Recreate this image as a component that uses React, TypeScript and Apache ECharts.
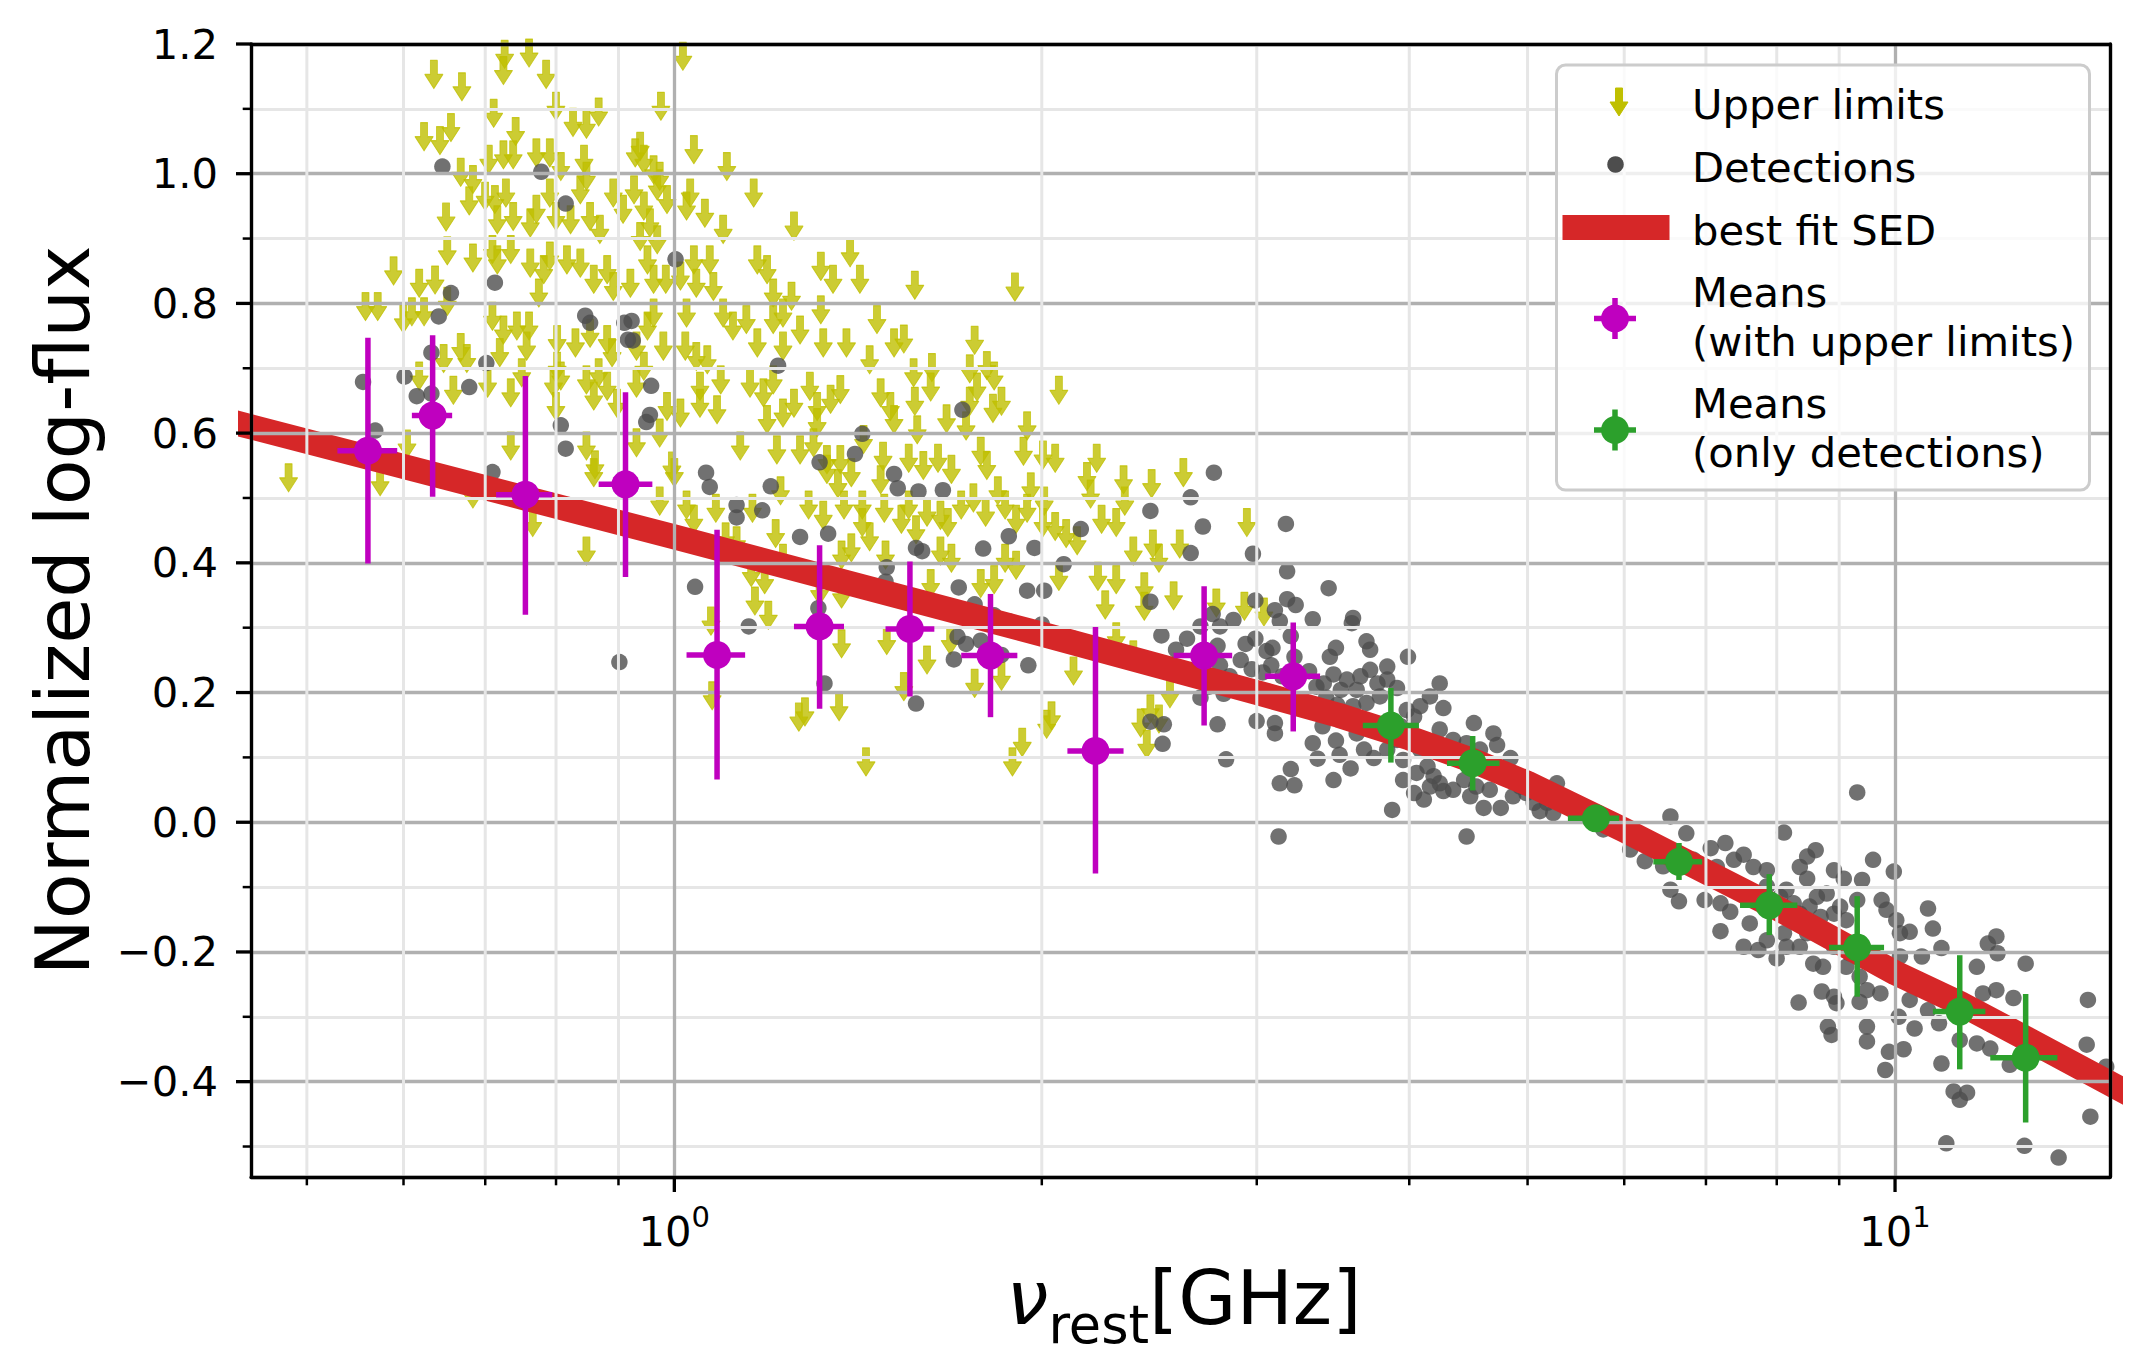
import React, { useEffect, useRef } from 'react';
import * as echarts from 'echarts';

// All x values are log10(nu_rest / GHz); y values are the normalized log-flux.
const upperLimits: [number, number][] = [
  [-0.139,1.184],[-0.119,1.186],[-0.140,1.159],[-0.197,1.153],[-0.174,1.134],[-0.105,1.153],[-0.148,1.093],[-0.097,1.104],[-0.083,1.079],[-0.072,1.076],[-0.062,1.095],[-0.011,1.104],[0.007,1.181],[-0.205,1.057],[-0.192,1.051],[-0.183,1.071],[-0.130,1.065],
  [-0.175,1.002],[-0.165,0.991],[-0.187,0.933],[-0.168,0.958],[-0.186,0.881],[-0.165,0.870],
  [-0.230,0.850],[-0.209,0.831],[-0.196,0.836],[-0.186,0.803],
  [-0.253,0.795],[-0.243,0.795],[-0.222,0.776],[-0.215,0.787],[-0.205,0.787],[-0.189,0.715],[-0.175,0.732],[-0.170,0.715],
  [-0.209,0.688],[-0.219,0.583],[-0.181,0.666],[-0.066,0.539],[0.000,0.539],[-0.316,0.531],[-0.241,0.525],[-0.165,0.506],[-0.116,0.462],[-0.072,0.418],[-0.012,0.495],[0.010,0.489],[0.016,0.467],[0.034,0.484],[0.042,0.440],[0.051,0.434],[0.064,0.484],[0.083,0.445],[0.063,0.385],[0.074,0.374],[0.089,0.407],
  [0.030,0.310],[0.031,0.195],[0.066,0.341],[0.077,0.319],[0.102,0.162],
  [-0.152,1.022],[-0.140,1.029],[-0.132,1.029],[-0.113,1.032],[-0.102,1.032],[-0.093,1.011],[-0.074,1.022],[-0.072,0.996],[-0.032,1.032],[-0.028,1.042],[-0.025,1.022],[-0.017,1.006],[-0.012,0.996],[0.016,1.037],[0.043,1.011],
  [-0.155,0.965],[-0.147,0.960],[-0.138,0.970],[-0.145,0.929],[-0.132,0.934],[-0.118,0.924],[-0.113,0.945],[-0.102,0.970],[-0.097,0.934],[-0.085,0.929],[-0.077,0.975],[-0.069,0.934],[-0.061,0.914],[-0.050,0.970],[-0.042,0.945],[-0.033,0.975],[-0.025,0.950],[-0.020,0.924],[-0.014,0.981],[-0.006,0.960],[0.010,0.950],[0.013,0.970],[0.025,0.939],[0.040,0.914],[0.065,0.970],[0.098,0.919],
  [-0.149,0.883],[-0.134,0.883],[-0.118,0.862],[-0.107,0.852],[-0.102,0.873],[-0.088,0.867],[-0.077,0.862],[-0.066,0.837],[-0.055,0.852],[-0.050,0.826],[-0.036,0.831],[-0.028,0.903],[-0.022,0.867],[-0.014,0.898],[-0.017,0.837],[-0.007,0.837],[0.005,0.842],[0.016,0.867],[0.018,0.831],[0.029,0.867],[0.032,0.826],[0.068,0.867],[0.076,0.852],[0.081,0.816],[0.096,0.811],[0.120,0.857],[0.130,0.837],[0.144,0.878],[0.152,0.837],[-0.111,0.816],[-0.145,0.867],
  [-0.149,0.780],[-0.140,0.759],[-0.129,0.765],[-0.119,0.765],[-0.143,0.724],[-0.121,0.734],[-0.096,0.744],[-0.081,0.739],[-0.069,0.754],[-0.055,0.744],[-0.051,0.724],[-0.031,0.734],[-0.022,0.765],[-0.017,0.785],[-0.009,0.734],[0.010,0.785],[0.009,0.734],[0.027,0.713],[0.040,0.785],[0.048,0.765],[0.059,0.775],[0.068,0.739],[0.081,0.775],[0.089,0.785],[0.103,0.759],[0.120,0.790],[0.122,0.739],[0.141,0.739],[0.166,0.775],[0.180,0.739],[0.018,0.718],[0.089,0.734],
  [-0.153,0.677],[-0.134,0.662],[-0.125,0.693],[-0.099,0.677],[-0.096,0.703],[-0.097,0.641],[-0.093,0.688],[-0.072,0.682],[-0.066,0.657],[-0.062,0.693],[-0.055,0.672],[-0.047,0.646],[-0.031,0.677],[-0.025,0.703],[-0.006,0.641],[0.005,0.631],[0.021,0.672],[0.021,0.646],[0.035,0.636],[0.038,0.682],[0.062,0.677],[0.073,0.662],[0.081,0.682],[0.089,0.631],[0.098,0.646],[0.111,0.672],[0.117,0.641],[0.128,0.652],[0.136,0.667],[0.160,0.713],[0.169,0.662],[0.177,0.641],[0.076,0.621],[0.117,0.616],
  [-0.134,0.580],[-0.072,0.580],[-0.065,0.551],[-0.031,0.585],[-0.012,0.600],[0.054,0.580],[0.084,0.574],[0.103,0.574],[0.114,0.585],[0.125,0.559],[0.136,0.559],[0.155,0.590],[0.171,0.564],[0.180,0.621],[-0.002,0.549],
  [0.197,0.828],[0.279,0.825],[0.188,0.745],[0.196,0.693],[0.211,0.701],[0.197,0.649],[0.210,0.671],[0.246,0.743],[0.242,0.699],[0.248,0.671],[0.256,0.704],[0.262,0.688],[0.268,0.649],[0.261,0.638],[0.315,0.666],[0.199,0.605],[0.223,0.622],[0.239,0.611],[0.242,0.649],
  [0.125,0.544],[0.134,0.522],[0.145,0.539],[0.169,0.528],[0.192,0.561],[0.204,0.550],[0.216,0.561],[0.227,0.544],[0.251,0.572],[0.256,0.550],[0.289,0.611],[0.286,0.572],[0.302,0.566],[0.312,0.561],[0.346,0.561],[0.338,0.533],[0.368,0.528],[0.391,0.522],[0.417,0.539],
  [0.087,0.511],[0.110,0.489],[0.122,0.473],[0.139,0.489],[0.154,0.489],[0.154,0.462],[0.160,0.440],[0.172,0.484],[0.186,0.467],[0.192,0.489],[0.198,0.451],[0.207,0.478],[0.218,0.473],[0.224,0.462],[0.235,0.489],[0.245,0.500],[0.255,0.478],[0.265,0.511],[0.271,0.489],[0.280,0.467],[0.289,0.484],[0.292,0.517],[0.303,0.495],[0.302,0.462],[0.312,0.456],[0.321,0.445],[0.330,0.434],[0.341,0.506],[0.350,0.467],[0.362,0.462],[0.369,0.495],[0.376,0.418],[0.392,0.429],[0.397,0.407],[0.414,0.429],[0.469,0.462],
  [0.173,0.412],[0.218,0.418],[0.227,0.407],[0.271,0.407],[0.280,0.396],[0.137,0.412],[0.145,0.423],[0.315,0.379],[0.347,0.379],[0.362,0.374],[0.385,0.363],[0.251,0.368],[0.262,0.374],[0.210,0.368],
  [0.137,0.275],[0.174,0.280],[0.207,0.250],[0.188,0.209],[0.246,0.214],[0.268,0.225],[0.157,0.093],[0.277,0.093],[0.285,0.123],[0.305,0.151],[0.309,0.164],[0.327,0.233],[0.362,0.286],[0.376,0.258],[0.385,0.333],[0.409,0.349],[0.390,0.175],[0.382,0.153],[0.387,0.120],[0.397,0.159],[0.406,0.198],[0.444,0.338],[0.467,0.333],[0.483,0.324],[0.107,0.170],[0.135,0.178],[0.353,0.335],[0.119,0.357],[0.137,0.352],[0.226,0.280],
];

const detections: [number, number][] = [
  [-0.190,1.011],[-0.109,1.003],[-0.089,0.954],[0.001,0.868],[-0.147,0.832],[-0.183,0.816],[-0.193,0.780],[-0.073,0.781],[-0.069,0.770],[-0.041,0.770],[-0.035,0.773],[-0.038,0.744],[-0.034,0.743],[-0.199,0.724],[-0.154,0.708],[0.085,0.704],[-0.255,0.679],[-0.221,0.687],[-0.211,0.657],[-0.199,0.661],[-0.168,0.671],[-0.019,0.673],[-0.020,0.628],[-0.023,0.617],[-0.093,0.612],[-0.245,0.604],[-0.089,0.576],[-0.149,0.540],[0.026,0.539],[0.029,0.517],[0.079,0.518],[0.051,0.489],[0.051,0.470],[0.072,0.481],[0.103,0.440],[0.017,0.363],
  [0.061,0.302],[-0.045,0.247],
  [0.236,0.636],[0.154,0.599],[0.148,0.568],[0.119,0.555],[0.180,0.537],[0.183,0.515],[0.200,0.510],[0.220,0.512],[0.126,0.445],[0.198,0.423],[0.203,0.418],[0.174,0.393],[0.173,0.371],[0.253,0.422],[0.274,0.441],[0.295,0.423],[0.319,0.398],[0.333,0.452],[0.390,0.480],[0.423,0.501],[0.433,0.456],[0.423,0.415],[0.442,0.539],[0.474,0.414],[0.501,0.460],[0.502,0.387],[0.536,0.361],[0.233,0.362],[0.289,0.357],[0.303,0.357],
  [0.118,0.330],[0.123,0.214],[0.198,0.183],[0.246,0.336],[0.232,0.286],[0.239,0.275],[0.229,0.251],[0.251,0.280],[0.262,0.319],[0.274,0.310],[0.268,0.258],[0.290,0.242],[0.301,0.305],[0.327,0.283],[0.390,0.340],[0.399,0.288],[0.411,0.266],[0.420,0.283],[0.431,0.302],[0.441,0.321],[0.447,0.302],[0.445,0.272],[0.447,0.242],[0.458,0.312],[0.476,0.342],[0.492,0.327],[0.502,0.344],[0.509,0.335],[0.523,0.313],[0.496,0.310],[0.505,0.287],[0.468,0.275],[0.476,0.283],[0.485,0.264],[0.490,0.269],[0.464,0.250],[0.473,0.236],[0.482,0.231],[0.489,0.242],[0.498,0.225],[0.508,0.255],[0.520,0.233],[0.537,0.255],[0.542,0.269],[0.540,0.228],[0.526,0.209],[0.534,0.192],[0.543,0.181],[0.431,0.192],[0.450,0.198],[0.445,0.151],[0.477,0.156],[0.492,0.153],[0.492,0.137],[0.531,0.148],[0.523,0.122],[0.542,0.126],[0.527,0.098],[0.545,0.104],[0.452,0.097],[0.505,0.082],[0.496,0.060],[0.508,0.057],[0.540,0.065],[0.495,-0.022],[0.390,0.155],[0.401,0.151],[0.400,0.121],[0.455,0.225],[0.438,0.209],
  [0.556,0.315],[0.555,0.307],[0.567,0.279],[0.570,0.266],[0.601,0.255],[0.584,0.240],[0.551,0.220],[0.562,0.225],[0.570,0.235],[0.576,0.214],[0.584,0.220],[0.592,0.207],[0.627,0.214],[0.619,0.194],[0.611,0.179],[0.630,0.176],[0.600,0.173],[0.606,0.163],[0.567,0.184],[0.556,0.179],[0.554,0.083],[0.565,0.112],[0.573,0.099],[0.584,0.112],[0.592,0.127],[0.559,0.137],[0.655,0.153],[0.671,0.137],[0.674,0.119],[0.627,0.143],[0.638,0.127],[0.649,0.122],[0.685,0.099],[0.660,0.112],[0.611,0.112],[0.617,0.086],[0.608,0.076],[0.597,0.065],[0.622,0.071],[0.627,0.060],[0.638,0.050],[0.630,0.048],[0.606,0.045],[0.614,0.035],[0.652,0.040],[0.663,0.022],[0.677,0.022],[0.668,0.050],[0.687,0.040],[0.693,0.055],[0.704,0.030],[0.709,0.017],[0.720,0.014],[0.723,0.060],[0.588,0.019],[0.649,-0.022],[0.737,0.030],[0.761,-0.011],[0.783,-0.042],[0.795,-0.060],[0.816,0.009],[0.829,-0.017],[0.810,-0.068],[0.816,-0.104],[0.823,-0.122],
  [0.546,0.204],[0.559,0.204],[0.578,0.194],[0.595,0.148],[0.600,0.132],[0.644,0.101],[0.666,0.081],[0.682,0.071],[0.698,0.045],[0.715,0.030],[0.647,0.065],[0.657,0.055],[0.619,0.055],[0.597,0.096],[0.532,0.214],[0.829,-0.068],[0.808,-0.048],[0.819,-0.048],[0.835,-0.058],
  [0.969,0.046],[0.909,-0.016],[0.849,-0.040],[0.861,-0.032],[0.876,-0.050],[0.868,-0.058],[0.884,-0.069],[0.895,-0.074],[0.922,-0.069],[0.928,-0.053],[0.935,-0.043],[0.928,-0.087],[0.950,-0.074],[0.958,-0.087],[0.973,-0.089],[0.982,-0.058],[0.999,-0.076],[0.844,-0.120],[0.857,-0.125],[0.865,-0.138],[0.881,-0.156],[0.857,-0.168],[0.906,-0.115],[0.917,-0.125],[0.930,-0.130],[0.944,-0.110],[0.955,-0.130],[0.939,-0.146],[0.969,-0.120],[0.989,-0.120],[0.993,-0.135],[1.001,-0.151],[1.012,-0.169],[1.027,-0.133],[1.031,-0.164],[0.876,-0.192],[0.888,-0.197],[0.903,-0.210],[0.911,-0.192],[0.922,-0.192],[0.933,-0.218],[0.941,-0.223],[0.960,-0.223],[0.971,-0.238],[0.988,-0.264],[0.982,-0.218],[1.004,-0.207],[1.022,-0.207],[1.038,-0.194],[0.921,-0.278],[0.940,-0.261],[0.950,-0.269],[0.952,-0.279],[0.971,-0.277],[0.945,-0.315],[0.948,-0.328],[0.977,-0.315],[0.977,-0.338],[0.995,-0.354],[0.992,-0.382],[1.007,-0.350],[1.003,-0.300],[1.016,-0.318],[1.012,-0.274],[1.027,-0.290],[1.036,-0.310],[1.053,-0.336],[1.038,-0.372],[1.067,-0.223],[1.076,-0.187],[1.083,-0.176],[1.084,-0.202],[1.072,-0.264],[1.083,-0.259],[1.097,-0.271],[1.107,-0.218],[1.067,-0.341],[1.078,-0.349],[1.094,-0.374],[1.048,-0.415],[1.059,-0.417],[1.053,-0.428],[1.042,-0.495],[1.106,-0.499],[1.134,-0.517],[1.158,-0.274],[1.157,-0.343],[1.160,-0.454],[1.173,-0.377],
  [0.854,-0.069],[0.895,-0.099],[0.911,-0.104],[0.922,-0.141],[0.936,-0.115],[0.950,-0.141],[0.960,-0.151],[0.909,-0.171],[0.895,-0.182],[0.928,-0.171],[0.950,-0.192],[0.963,-0.202],[1.004,-0.171],[0.977,-0.259],
];

// best fit SED: [log10(nu), log-flux]
const bestFitSED: [number, number][] = [
  [-0.37,0.621],[0.0,0.44],[0.301,0.29],[0.477,0.20],[0.544,0.165],[0.602,0.13],[0.654,0.095],[0.699,0.06],[0.778,-0.012],[0.903,-0.132],[1.0,-0.232],[1.053,-0.279],[1.107,-0.333],[1.2,-0.427],
];

// [log10(nu), y, yLow, yHigh, log10(nuLow), log10(nuHigh)]
const meansWithUpperLimits: number[][] = [
  [-0.251,0.573,0.399,0.747,-0.276,-0.227],
  [-0.198,0.627,0.502,0.751,-0.215,-0.182],
  [-0.122,0.505,0.320,0.688,-0.146,-0.100],
  [-0.040,0.521,0.378,0.663,-0.062,-0.018],
  [0.035,0.258,0.066,0.451,0.010,0.058],
  [0.119,0.302,0.175,0.427,0.098,0.139],
  [0.193,0.298,0.194,0.402,0.173,0.213],
  [0.259,0.257,0.162,0.352,0.235,0.281],
  [0.345,0.110,-0.079,0.301,0.322,0.368],
  [0.434,0.257,0.149,0.364,0.409,0.457],
  [0.507,0.225,0.140,0.308,0.484,0.529],
];
const meansDetectionsOnly: number[][] = [
  [0.587,0.149,0.092,0.207,0.564,0.610],
  [0.654,0.091,0.049,0.133,0.633,0.676],
  [0.755,0.006,-0.004,0.016,0.732,0.774],
  [0.823,-0.061,-0.089,-0.032,0.802,0.842],
  [0.897,-0.128,-0.174,-0.080,0.873,0.920],
  [0.969,-0.193,-0.269,-0.114,0.946,0.991],
  [1.053,-0.292,-0.381,-0.205,1.031,1.074],
  [1.107,-0.363,-0.463,-0.265,1.078,1.133],
];

const xMajorTicks = [1, 10];
const xMinorTicks = [0.5, 0.6, 0.7, 0.8, 0.9, 2, 3, 4, 5, 6, 7, 8, 9];
const yMajorTicks = [-0.4, -0.2, 0, 0.2, 0.4, 0.6, 0.8, 1.0, 1.2];
const yMinorTicks = [-0.5, -0.3, -0.1, 0.1, 0.3, 0.5, 0.7, 0.9, 1.1];

const X_MIN = 0.45;
const X_MAX = 15;
const Y_MIN = -0.547;
const Y_MAX = 1.2;

const FONT = 'DejaVu Sans';
const C_UL = '#bfbf00';
const C_DET = '#4d4d4d';
const C_RED = '#d62728';
const C_MAG = '#bf00bf';
const C_GRN = '#2ca02c';
const GRID_MAJOR = '#b0b0b0';
const GRID_MINOR = '#e6e6e6';

const ARROW = 'path://M5.5,0L12.5,0L12.5,14L18,14L9,28L0,14L5.5,14Z';

const toNu = (l: number) => Math.pow(10, l);

function meansRender(color: string) {
  return (params: any, api: any) => {
    const x = api.value(0), y = api.value(1);
    const c = api.coord([x, y]);
    const lo = api.coord([x, api.value(2)]);
    const hi = api.coord([x, api.value(3)]);
    const l = api.coord([api.value(4), y]);
    const r = api.coord([api.value(5), y]);
    return {
      type: 'group',
      children: [
        { type: 'line', shape: { x1: lo[0], y1: lo[1], x2: hi[0], y2: hi[1] }, style: { stroke: color, lineWidth: 5.5 } },
        { type: 'line', shape: { x1: l[0], y1: l[1], x2: r[0], y2: r[1] }, style: { stroke: color, lineWidth: 5.5 } },
        { type: 'circle', shape: { cx: c[0], cy: c[1], r: 14 }, style: { fill: color } },
      ],
    };
  };
}

function legendMean(cx: number, cy: number, color: string) {
  return [
    { type: 'line', z: 101, shape: { x1: cx - 21, y1: cy, x2: cx + 21, y2: cy }, style: { stroke: color, lineWidth: 5.5 } },
    { type: 'line', z: 101, shape: { x1: cx, y1: cy - 20.5, x2: cx, y2: cy + 20.5 }, style: { stroke: color, lineWidth: 5.5 } },
    { type: 'circle', z: 101, shape: { cx, cy, r: 14 }, style: { fill: color } },
  ];
}

function legendText(x: number, y: number, text: string) {
  return {
    type: 'text', z: 101, x, y,
    style: { text, fontSize: 41.7, fontFamily: FONT, fill: '#000', lineHeight: 49, align: 'left', verticalAlign: 'middle', textAlign: 'left', textVerticalAlign: 'middle' },
  };
}

function buildOption() {
  const acx = 1619, acy = 102;
  const arrowPts = [[-3.5, -14], [3.5, -14], [3.5, 0], [9, 0], [0, 14], [-9, 0], [-3.5, 0]].map(([dx, dy]) => [acx + dx, acy + dy]);
  return {
    animation: false,
    grid: { left: 251, right: 33, top: 44, bottom: 193, containLabel: false },
    xAxis: [
      {
        type: 'log', logBase: 10, min: X_MIN, max: X_MAX, z: 4,
        axisLine: { show: true, onZero: false, lineStyle: { color: '#000', width: 3.3 } },
        axisTick: { show: false },
        axisLabel: {
          margin: 25,
          formatter: (v: number) => {
            const e = Math.log10(v);
            if (Math.abs(e - Math.round(e)) > 1e-6) return '';
            return `{b|10}{s|${Math.round(e)}}`;
          },
          rich: {
            b: { fontSize: 41.7, fontFamily: FONT, color: '#000', lineHeight: 50, verticalAlign: 'bottom' },
            s: { fontSize: 29, fontFamily: FONT, color: '#000', lineHeight: 20, verticalAlign: 'top' },
          },
        },
        splitLine: { show: true, lineStyle: { color: GRID_MAJOR, width: 3.3 } },
      },
      {
        type: 'log', logBase: 10, min: X_MIN, max: X_MAX, position: 'top', z: 4,
        axisLine: { show: true, onZero: false, lineStyle: { color: '#000', width: 3.3 } },
        axisTick: { show: false }, axisLabel: { show: false }, splitLine: { show: false },
      },
    ],
    yAxis: [
      {
        type: 'value', min: Y_MIN, max: Y_MAX, splitNumber: 8, minInterval: 0.2, maxInterval: 0.2, z: 4,
        axisLine: { show: true, onZero: false, lineStyle: { color: '#000', width: 3.3 } },
        axisTick: { show: false },
        minorTick: { show: false, splitNumber: 2 },
        axisLabel: {
          margin: 33, fontSize: 41.7, fontFamily: FONT, color: '#000',
          formatter: (v: number) => {
            const r = Math.round(v * 10) / 10;
            if (Math.abs(v - r) > 1e-6) return '';
            const s = (Math.abs(r) < 1e-9 ? 0 : r).toFixed(1);
            return s.replace('-', '\u2212');
          },
        },
        splitLine: { show: true, lineStyle: { color: GRID_MAJOR, width: 3.3 } },
        minorSplitLine: { show: true, lineStyle: { color: GRID_MINOR, width: 3 } },
      },
      {
        type: 'value', min: Y_MIN, max: Y_MAX, position: 'right', z: 4,
        axisLine: { show: true, onZero: false, lineStyle: { color: '#000', width: 3.3 } },
        axisTick: { show: false }, axisLabel: { show: false }, splitLine: { show: false },
      },
    ],
    series: [
      {
        name: 'Upper limits', type: 'scatter', z: 1, silent: true,
        symbol: ARROW, symbolSize: [18, 28],
        itemStyle: { color: C_UL, borderColor: C_UL, borderWidth: 1, borderJoin: 'round' },
        data: upperLimits.map(([l, y]) => [toNu(l), y]),
      },
      {
        name: 'Detections', type: 'scatter', z: 1, silent: true,
        symbol: 'circle', symbolSize: 16.5,
        itemStyle: { color: C_DET },
        data: detections.map(([l, y]) => [toNu(l), y]),
      },
      {
        name: 'best fit SED', type: 'line', z: 3, silent: true, showSymbol: false, symbol: 'none', clip: true,
        lineStyle: { color: C_RED, width: 25, cap: 'butt', join: 'round' },
        data: bestFitSED.map(([l, y]) => [toNu(l), y]),
      },
      {
        name: 'x ticks', type: 'custom', z: 4, silent: true, clip: false,
        encode: { x: 0, y: 1 },
        data: [...xMajorTicks.map((v) => [v, Y_MIN, 1]), ...xMinorTicks.map((v) => [v, Y_MIN, 0])],
        renderItem: (params: any, api: any) => {
          const v = api.value(0);
          const major = api.value(2) === 1;
          const b = api.coord([v, Y_MIN]);
          const t = api.coord([v, Y_MAX]);
          const children: any[] = [];
          if (!major) children.push({ type: 'line', shape: { x1: b[0], y1: t[1], x2: b[0], y2: b[1] }, style: { stroke: GRID_MINOR, lineWidth: 3 } });
          children.push({ type: 'line', shape: { x1: b[0], y1: b[1], x2: b[0], y2: b[1] + (major ? 15 : 8.3) }, style: { stroke: '#000', lineWidth: major ? 3.3 : 2.5 } });
          return { type: 'group', children };
        },
      },
      {
        name: 'y ticks', type: 'custom', z: 4, silent: true, clip: false,
        encode: { x: 0, y: 1 },
        data: [...yMajorTicks.map((v) => [X_MIN, v, 1]), ...yMinorTicks.map((v) => [X_MIN, v, 0])],
        renderItem: (params: any, api: any) => {
          const major = api.value(2) === 1;
          const p = api.coord([X_MIN, api.value(1)]);
          return { type: 'line', shape: { x1: p[0] - (major ? 15 : 8.3), y1: p[1], x2: p[0], y2: p[1] }, style: { stroke: '#000', lineWidth: major ? 3.3 : 2.5 } };
        },
      },
      {
        name: 'Means (with upper limits)', type: 'custom', z: 6, silent: true,
        encode: { x: [0, 4, 5], y: [1, 2, 3] },
        data: meansWithUpperLimits.map((d) => [toNu(d[0]), d[1], d[2], d[3], toNu(d[4]), toNu(d[5])]),
        renderItem: meansRender(C_MAG),
      },
      {
        name: 'Means (only detections)', type: 'custom', z: 6, silent: true,
        encode: { x: [0, 4, 5], y: [1, 2, 3] },
        data: meansDetectionsOnly.map((d) => [toNu(d[0]), d[1], d[2], d[3], toNu(d[4]), toNu(d[5])]),
        renderItem: meansRender(C_GRN),
      },
    ],
    graphic: [
      {
        type: 'text', z: 100, x: 63, y: 610.5, rotation: Math.PI / 2,
        style: { text: 'Normalized log-flux', fontSize: 75, fontFamily: FONT, fill: '#000', align: 'center', verticalAlign: 'middle', textAlign: 'center', textVerticalAlign: 'middle' },
      },
      {
        type: 'text', z: 100, x: 1184, y: 1260.5,
        style: {
          text: '{nu|ν}{sub|rest}{main|[GHz]}', align: 'center', verticalAlign: 'top', textAlign: 'center', textVerticalAlign: 'top',
          fontFamily: FONT, fill: '#000',
          rich: {
            nu: { fontSize: 75, fontFamily: FONT, fontStyle: 'italic', fill: '#000', lineHeight: 90, verticalAlign: 'top' },
            sub: { fontSize: 52.5, fontFamily: FONT, fill: '#000', lineHeight: 50, verticalAlign: 'bottom' },
            main: { fontSize: 75, fontFamily: FONT, fill: '#000', lineHeight: 90, verticalAlign: 'top' },
          },
        },
      },
      {
        type: 'rect', z: 100,
        shape: { x: 1556.5, y: 65, width: 533, height: 425, r: 9 },
        style: { fill: 'rgba(255,255,255,0.8)', stroke: '#cccccc', lineWidth: 3 },
      },
      {
        type: 'polygon', z: 101, shape: { points: arrowPts },
        style: { fill: C_UL, stroke: C_UL, lineWidth: 1, lineJoin: 'round' },
      },
      { type: 'circle', z: 101, shape: { cx: 1615.5, cy: 164.5, r: 8.25 }, style: { fill: C_DET } },
      { type: 'rect', z: 101, shape: { x: 1562.5, y: 215, width: 107, height: 25 }, style: { fill: C_RED } },
      ...legendMean(1615, 318.5, C_MAG),
      ...legendMean(1615, 430, C_GRN),
      legendText(1692, 104, 'Upper limits'),
      legendText(1692, 167, 'Detections'),
      legendText(1692, 230, 'best fit SED'),
      legendText(1692, 317, 'Means\n(with upper limits)'),
      legendText(1692, 428, 'Means\n(only detections)'),
    ],
  };
}

export default function App() {
  const ref = useRef<HTMLDivElement>(null);
  useEffect(() => {
    document.body.style.margin = '0';
    document.documentElement.style.overflow = 'hidden';
    document.body.style.overflow = 'hidden';
    const chart = echarts.init(ref.current as HTMLDivElement, null, { renderer: 'svg', width: 2143, height: 1370 });
    chart.setOption(buildOption() as any);
    return () => chart.dispose();
  }, []);
  return <div ref={ref} style={{ width: 2143, height: 1370, background: '#fff' }} />;
}
